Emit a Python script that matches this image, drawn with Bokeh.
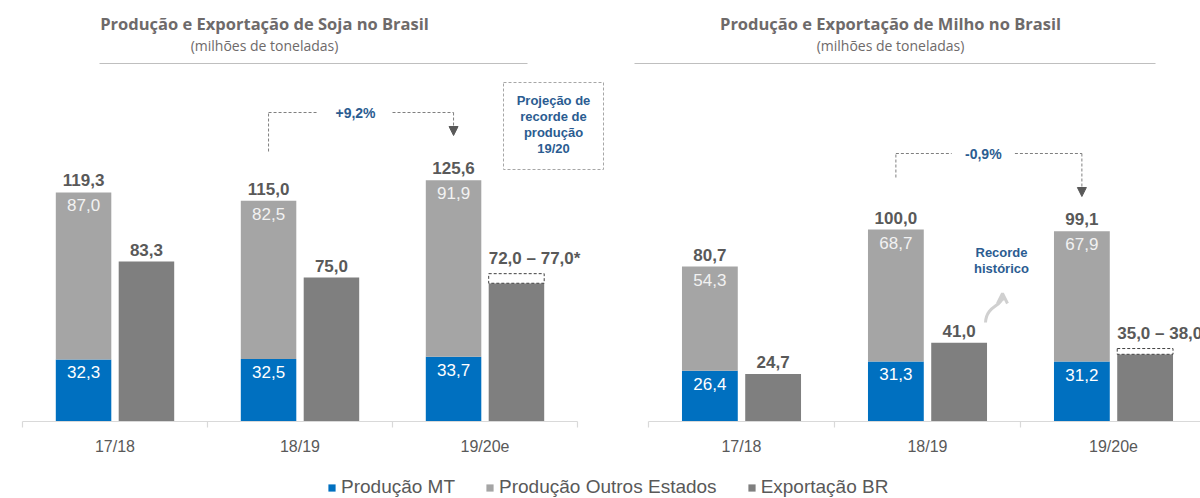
from bokeh.plotting import figure
from bokeh.layouts import column, row
from bokeh.models import (ColumnDataSource, Range1d, LinearAxis, FixedTicker, Arrow,
                          NormalHead, OpenHead, Legend, LegendItem)
from bokeh.transform import dodge
from bokeh.core.properties import value
from bokeh.embed import file_html
from bokeh.resources import INLINE

# ---------------- data ----------------
seasons = ["17/18", "18/19", "19/20e"]
series_names = ["Produção MT", "Produção Outros Estados", "Exportação BR"]

soja_mt = [32.3, 32.5, 33.7]
soja_outros = [87.0, 82.5, 91.9]
soja_total = [119.3, 115.0, 125.6]
soja_export = [83.3, 75.0, 72.0]
soja_export_high = 77.0
soja_change = "+9,2%"

milho_mt = [26.4, 31.3, 31.2]
milho_outros = [54.3, 68.7, 67.9]
milho_total = [80.7, 100.0, 99.1]
milho_export = [24.7, 41.0, 35.0]
milho_export_high = 38.0
milho_change = "-0,9%"

titles = ["Produção e Exportação de Soja no Brasil",
          "Produção e Exportação de Milho no Brasil"]
subtitle = "(milhões de toneladas)"
projection_note = "Projeção de\nrecorde de\nprodução\n19/20"
record_note = "Recorde\nhistórico"

# ---------------- style ----------------
C_MT, C_OUT, C_EXP = "#0070C0", "#A5A5A5", "#7F7F7F"
TXT = "#595959"
TITLE_C = "#6E6A6A"
BLUE_TXT = "#2B5C91"
AX_C = "#D9D9D9"
FONT_NAME = "Liberation Sans"
FONT = value(FONT_NAME)
TFONT = value("Open Sans")

PX = 1.92          # pixels per unit (million t)
FRAME_H = 421
ROW_H = 470
LEG_H = 28
Y_TOP = FRAME_H / PX
OFF = 0.17
BW = 0.30


def br(v):
    return f"{v:.1f}".replace(".", ",")


def make_panel(width, cat_px, axis_left_px, fig_left_px, title, mt, outros, total,
               export, export_high, change, title_px, rule_px, br_top, br_bot, tip, gap):
    # page-pixel helpers for annotation placement
    def xd(page):
        return (page - axis_left_px) / cat_px - 0.5

    def yd(page):
        return (FRAME_H - page) / PX

    p = figure(width=width, height=ROW_H,
               x_range=Range1d(xd(fig_left_px), xd(fig_left_px + width)),
               y_range=Range1d(0, Y_TOP),
               x_axis_location=None, y_axis_location=None,
               toolbar_location=None, output_backend="svg",
               min_border_left=0, min_border_right=0, min_border_top=0,
               min_border_bottom=ROW_H - FRAME_H, outline_line_color=None)
    p.grid.visible = False

    n = len(seasons)
    idx = list(range(n))
    src = ColumnDataSource(dict(
        x=idx, mt=mt, outros=outros, total=total, export=export,
        mt_lbl=[br(v) for v in mt], out_lbl=[br(v) for v in outros],
        tot_lbl=[br(v) for v in total]))

    p.vbar_stack(["mt", "outros"], x=dodge("x", -OFF), width=BW,
                 fill_color=[C_MT, C_OUT], line_color=None, source=src)
    p.vbar(x=dodge("x", OFF), top="export", width=BW, fill_color=C_EXP,
           line_color=None, source=src)

    # range box on last export bar
    p.vbar(x=[idx[-1] + OFF], bottom=[export[-1]], top=[export_high], width=BW,
           fill_color="white", line_color="#404040", line_dash="3 2", line_width=1)

    common = dict(text_font=FONT, text_align="center")
    p.text(x=dodge("x", -OFF), y="mt", text="mt_lbl", text_baseline="top", y_offset=7,
           text_color="white", text_font_size="17px", source=src, **common)
    p.text(x=dodge("x", -OFF), y="total", text="out_lbl", text_baseline="top", y_offset=7,
           text_color="#F2F2F2", text_font_size="17px", source=src, **common)
    p.text(x=dodge("x", -OFF), y="total", text="tot_lbl", text_baseline="bottom", y_offset=-6,
           text_color=TXT, text_font_size="17px", text_font_style="bold", source=src, **common)
    exp_src = ColumnDataSource(dict(x=idx[:-1], export=export[:-1],
                                    lbl=[br(v) for v in export[:-1]]))
    p.text(x=dodge("x", OFF), y="export", text="lbl", text_baseline="bottom", y_offset=-6,
           text_color=TXT, text_font_size="17px", text_font_style="bold", source=exp_src, **common)
    p.text(x=[idx[-1] + OFF - BW / 2], y=[export_high],
           text=[f"{br(export[-1])} – {br(export_high)}*"], text_baseline="bottom", y_offset=-6,
           text_color=TXT, text_font_size="17px", text_font_style="bold",
           text_font=FONT, text_align="left")

    # title, subtitle, rule
    p.text(x=[xd(title_px)], y=[yd(23)], text=[title], text_font=TFONT, text_font_style="bold",
           text_font_size="16.5px", text_color=TITLE_C, text_align="center",
           text_baseline="middle")
    p.text(x=[xd(title_px)], y=[yd(45)], text=[subtitle], text_font=TFONT,
           text_font_size="14px", text_color=TITLE_C, text_align="center",
           text_baseline="middle")
    p.segment(x0=[xd(rule_px[0])], x1=[xd(rule_px[1])], y0=[yd(63)], y1=[yd(63)],
              line_color="#BFBFBF", line_width=1.2)

    # change bracket
    xl, xr = idx[1] - OFF, idx[2] - OFF
    xc = (xl + xr) / 2 - 0.03
    dash = dict(line_color=C_EXP, line_dash="3 2", line_width=1)
    p.segment(x0=[xl, xl, xc + gap], y0=[yd(br_bot), yd(br_top), yd(br_top)],
              x1=[xl, xc - gap, xr], y1=[yd(br_top), yd(br_top), yd(br_top)], **dash)
    p.add_layout(Arrow(end=NormalHead(size=9, fill_color="#595959", line_color="#595959"),
                       x_start=xr, y_start=yd(br_top), x_end=xr, y_end=yd(tip), **dash))
    p.text(x=[xc], y=[yd(br_top)], text=[change], text_font=FONT, text_font_style="bold",
           text_font_size="14px", text_color=BLUE_TXT, text_align="center",
           text_baseline="middle")

    ax = LinearAxis(bounds=(-0.5, n - 0.5),
                    ticker=FixedTicker(ticks=idx, minor_ticks=[i - 0.5 for i in range(n + 1)]),
                    major_label_overrides={i: s for i, s in zip(idx, seasons)},
                    axis_line_color=AX_C, axis_line_width=1.2,
                    major_tick_line_color=None, major_tick_out=0, major_tick_in=0,
                    minor_tick_line_color=AX_C, minor_tick_line_width=1.2,
                    minor_tick_out=6, minor_tick_in=0,
                    major_label_standoff=10, major_label_text_font=FONT_NAME,
                    major_label_text_font_size="16px", major_label_text_color=TXT)
    p.add_layout(ax, "below")
    return p, xd, yd


p1, xd1, yd1 = make_panel(618, 185, 22, 0, titles[0], soja_mt, soja_outros, soja_total,
                          soja_export, soja_export_high, soja_change,
                          title_px=264, rule_px=(99, 527), br_top=112, br_bot=151, tip=135,
                          gap=0.2)
# projection note box
p1.quad(left=[xd1(503)], right=[xd1(603)], top=[yd1(82)], bottom=[yd1(169)],
        fill_color=None, line_color="#A6A6A6", line_dash="3 2", line_width=1)
p1.text(x=[xd1(553)], y=[yd1(124)], text=[projection_note], text_font=FONT,
        text_font_style="bold", text_font_size="13px", text_color=BLUE_TXT,
        text_align="center", text_baseline="middle", text_line_height=1.05)

p2, xd2, yd2 = make_panel(582, 186, 648, 618, titles[1], milho_mt, milho_outros, milho_total,
                          milho_export, milho_export_high, milho_change,
                          title_px=890, rule_px=(634, 1155), br_top=153, br_bot=177, tip=196,
                          gap=0.17)
# record note with curved arrow
p2.bezier(x0=[xd2(985)], y0=[yd2(322)], x1=[xd2(1002)], y1=[yd2(297)],
          cx0=[xd2(986)], cy0=[yd2(305)], cx1=[xd2(1001)], cy1=[yd2(306)],
          line_color="#D0D0D0", line_width=3)
p2.add_layout(Arrow(end=OpenHead(size=10, line_color="#D0D0D0", line_width=3),
                    x_start=xd2(1002), y_start=yd2(300), x_end=xd2(1002), y_end=yd2(293),
                    line_color="#D0D0D0", line_width=3))
p2.text(x=[xd2(1001)], y=[yd2(260)], text=[record_note], text_font=FONT,
        text_font_style="bold", text_font_size="13px", text_color=BLUE_TXT,
        text_align="center", text_baseline="middle", text_line_height=1.1)

# legend strip
lg = figure(width=1200, height=LEG_H, x_range=Range1d(0, 1), y_range=Range1d(0, 1),
            x_axis_location=None, y_axis_location=None, toolbar_location=None,
            output_backend="svg", min_border=0, outline_line_color=None)
lg.grid.visible = False
# swatch renderers, kept outside the visible range so only their legend entries show
rends = [lg.vbar(x=[5], top=[1], width=0.1, fill_color=c, line_color=None)
         for c in (C_MT, C_OUT, C_EXP)]
leg = Legend(items=[LegendItem(label=nm, renderers=[r]) for nm, r in zip(series_names, rends)],
             orientation="horizontal", location=(327, 0), glyph_width=9, glyph_height=9,
             label_text_font=FONT_NAME, label_text_font_size="19px", label_text_color=TXT,
             label_standoff=5, spacing=30, padding=0, margin=0,
             border_line_color=None, background_fill_alpha=0)
lg.add_layout(leg)

layout = column(row(p1, p2), lg)
open("out.html", "w").write(file_html(layout, INLINE))
